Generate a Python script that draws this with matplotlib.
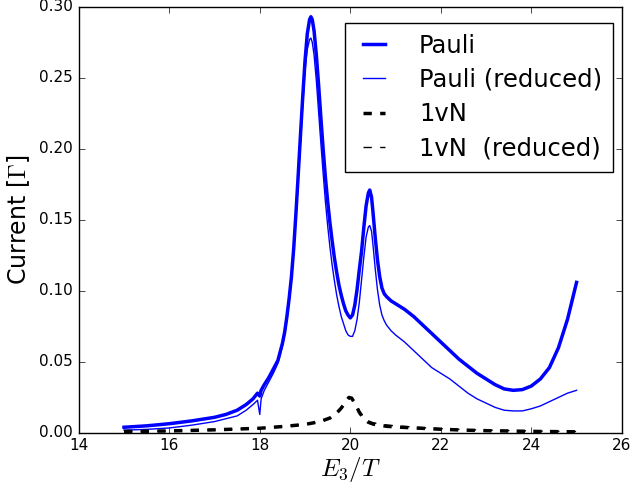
import matplotlib
matplotlib.use("Agg")
import matplotlib.pyplot as plt

# --------------------------------------------------------
#  Data
# --------------------------------------------------------

e_pauli = [15.0, 15.5, 16.0, 16.5, 17.0, 17.25, 17.5, 17.7, 17.85, 17.95, 18.0, 18.03,
           18.1, 18.2, 18.3, 18.4, 18.5, 18.55, 18.6, 18.65, 18.7, 18.75, 18.8, 18.85,
           18.9, 18.95, 19.0, 19.05, 19.1, 19.13, 19.16, 19.2, 19.25, 19.3, 19.35, 19.4,
           19.45, 19.5, 19.55, 19.6, 19.65, 19.7, 19.75, 19.8, 19.85, 19.9, 19.95, 20.0,
           20.05, 20.1, 20.15, 20.2, 20.25, 20.3, 20.35, 20.4, 20.43, 20.47, 20.5, 20.55,
           20.6, 20.65, 20.7, 20.75, 20.8, 20.9, 21.0, 21.2, 21.4, 21.6, 21.8, 22.0,
           22.2, 22.4, 22.6, 22.8, 23.0, 23.2, 23.4, 23.6, 23.8, 24.0, 24.2, 24.4,
           24.6, 24.8, 25.0]

pauli = [0.004, 0.005, 0.0065, 0.0085, 0.011, 0.013, 0.016, 0.020, 0.024, 0.028, 0.026, 0.030,
         0.034, 0.039, 0.045, 0.051, 0.063, 0.071, 0.082, 0.095, 0.110, 0.130, 0.155, 0.182,
         0.210, 0.237, 0.262, 0.281, 0.291, 0.293, 0.291, 0.283, 0.266, 0.245, 0.222, 0.200,
         0.180, 0.163, 0.148, 0.135, 0.123, 0.113, 0.104, 0.097, 0.091, 0.086, 0.083, 0.081,
         0.083, 0.090, 0.101, 0.115, 0.128, 0.145, 0.160, 0.169, 0.171, 0.166, 0.156, 0.138,
         0.122, 0.110, 0.102, 0.098, 0.096, 0.093, 0.091, 0.087, 0.082, 0.076, 0.070, 0.064,
         0.058, 0.052, 0.047, 0.042, 0.038, 0.034, 0.031, 0.030, 0.0305, 0.033, 0.038, 0.046,
         0.060, 0.080, 0.106]

pauli_red = [0.002, 0.0025, 0.0035, 0.0055, 0.008, 0.010, 0.012, 0.016, 0.020, 0.023, 0.013, 0.024,
             0.030, 0.036, 0.042, 0.049, 0.061, 0.069, 0.080, 0.093, 0.108, 0.128, 0.152, 0.178,
             0.205, 0.231, 0.255, 0.270, 0.277, 0.278, 0.275, 0.266, 0.248, 0.226, 0.204, 0.183,
             0.163, 0.146, 0.131, 0.118, 0.107, 0.097, 0.089, 0.082, 0.077, 0.072, 0.069, 0.068,
             0.068, 0.072, 0.080, 0.092, 0.108, 0.124, 0.138, 0.145, 0.146, 0.142, 0.133, 0.116,
             0.101, 0.090, 0.083, 0.079, 0.076, 0.072, 0.069, 0.064, 0.058, 0.052, 0.046, 0.042,
             0.038, 0.033, 0.028, 0.024, 0.021, 0.018, 0.016, 0.0155, 0.0155, 0.017, 0.019, 0.022,
             0.025, 0.028, 0.030]

e_1vn = [15.0, 16.0, 17.0, 18.0, 18.5, 19.0, 19.2, 19.4, 19.55, 19.7, 19.8, 19.9,
         19.97, 20.03, 20.1, 20.2, 20.3, 20.4, 20.5, 20.65, 20.8, 21.0, 21.5, 22.0,
         22.5, 23.0, 24.0, 25.0]

onevn = [0.001, 0.0014, 0.0022, 0.0033, 0.0045, 0.006, 0.0072, 0.0088, 0.0105, 0.014, 0.0175, 0.022,
         0.025, 0.0245, 0.021, 0.0145, 0.010, 0.0075, 0.0063, 0.0054, 0.0047, 0.0042, 0.0034, 0.0026,
         0.002, 0.0016, 0.0011, 0.0008]

onevn_red = [0.001, 0.0014, 0.0022, 0.0033, 0.0045, 0.006, 0.0072, 0.0088, 0.0105, 0.014, 0.0175, 0.022,
             0.025, 0.0245, 0.021, 0.0155, 0.011, 0.0085, 0.0072, 0.0063, 0.0056, 0.005, 0.0039, 0.003,
             0.0024, 0.002, 0.0014, 0.001]

# --------------------------------------------------------
#  Plot
# --------------------------------------------------------

plt.style.use("classic")
plt.rcParams["mathtext.fontset"] = "cm"
plt.rcParams["font.family"] = "DejaVu Sans"

fig = plt.figure(figsize=(6.3, 4.87), dpi=100, facecolor="white")
ax = fig.add_axes([0.125, 0.111, 0.862, 0.875])

ax.plot(e_pauli, pauli, color="blue", lw=2.5, label="Pauli")
ax.plot(e_pauli, pauli_red, color="blue", lw=1.0, label="Pauli (reduced)")
ax.plot(e_1vn, onevn, color="black", lw=2.5, ls="--", label="1vN")
ax.plot(e_1vn, onevn_red, color="black", lw=1.0, ls="--", label="1vN  (reduced)")

ax.set_xlim(14, 26)
ax.set_ylim(0, 0.30)
ax.set_xticks(range(14, 27, 2))
ax.set_yticks([0.0, 0.05, 0.10, 0.15, 0.20, 0.25, 0.30])
ax.set_yticklabels(["0.00", "0.05", "0.10", "0.15", "0.20", "0.25", "0.30"])
ax.tick_params(labelsize=11)

ax.set_xlabel(r"$E_3/T$", fontsize=18, labelpad=1)
ax.set_ylabel(r"Current [$\Gamma$]", fontsize=17)

leg = ax.legend(loc="upper right", bbox_to_anchor=(0.984, 0.963), borderaxespad=0,
                fontsize=17.5, handlelength=1.5, labelspacing=0.43, handletextpad=1.1,
                borderpad=0.45)
leg.get_frame().set_linewidth(1.0)

fig.savefig("out.png", dpi=100, facecolor="white")
